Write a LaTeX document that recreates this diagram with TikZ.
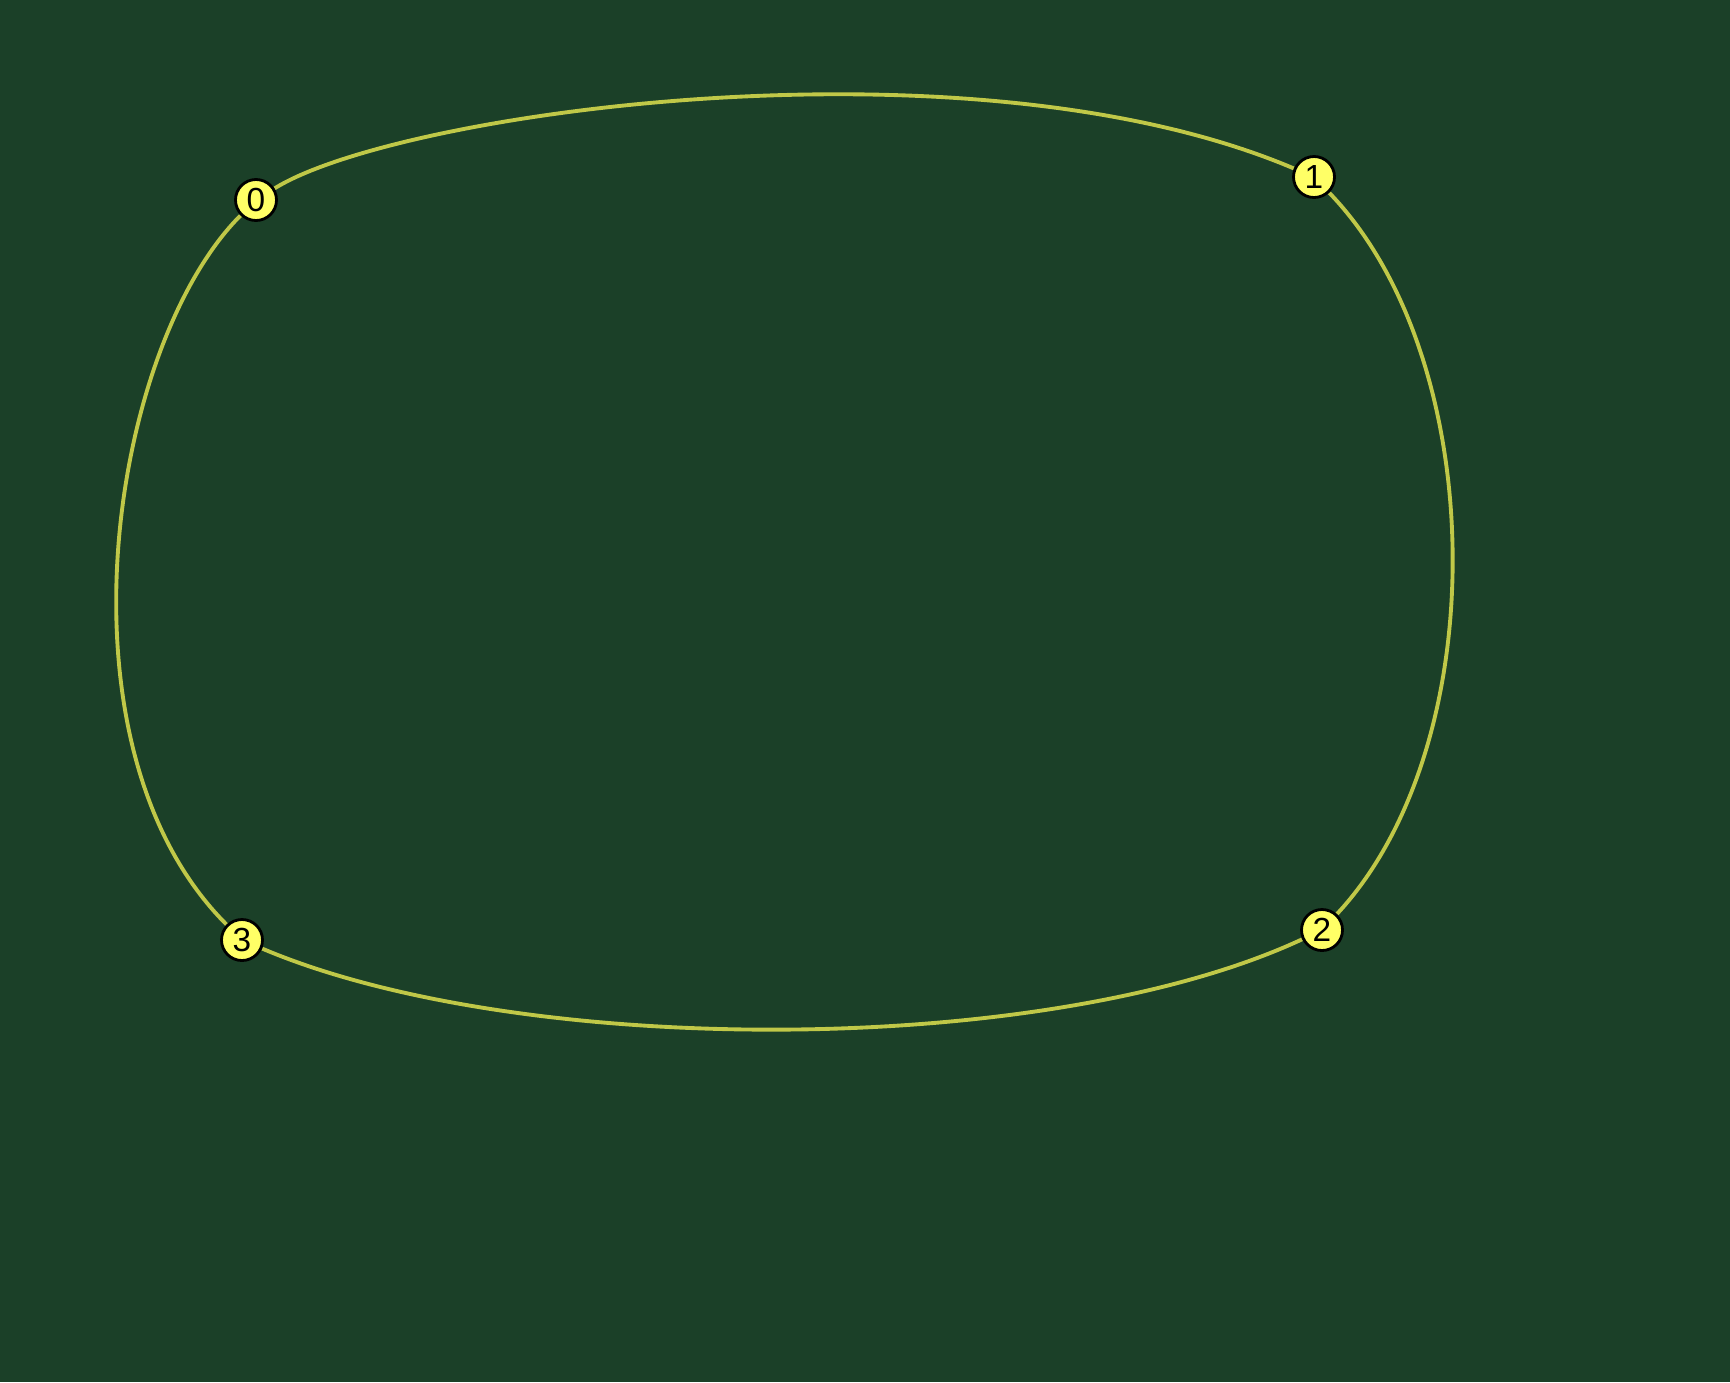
\documentclass[tikz,border=0pt]{standalone}
\usepackage{fontspec}
\setmainfont{Liberation Sans}
\usetikzlibrary{backgrounds}

\definecolor{boardgreen}{RGB}{27,64,40}
\definecolor{wire}{RGB}{192,200,72}
\definecolor{dotfill}{RGB}{255,255,102}

\begin{document}
\begin{tikzpicture}[semithick,
        vertex/.style={circle,draw=black,line width=0.8pt,fill=dotfill,minimum size=0.41cm,inner sep=0pt,font=\fontsize{9.5}{11}\selectfont},
        link/.style={draw=wire,line width=1.1pt}]
        \useasboundingbox (0,0) rectangle (17.3,-13.82);
        \node[vertex] (v0) at (2.56,-2.00) {0};
        \node[vertex] (v1) at (13.14,-1.77) {1};
        \node[vertex] (v2) at (13.22,-9.30) {2};
        \node[vertex] (v3) at (2.42,-9.40) {3};

        \begin{scope}[on background layer]
        \fill[boardgreen] (0,0) rectangle (17.3,-13.82);
        \path (v0) edge[link,out=32,in=157,out looseness=0.36,in looseness=0.88] (v1);
        \path (v1) edge[link,out=-46,in=47,looseness=0.82] (v2);
        \path (v2) edge[link,out=-155,in=-23,looseness=0.69] (v3);
        \path (v3) edge[link,out=135,in=-135,out looseness=0.91,in looseness=0.66] (v0);
        \end{scope}
    \end{tikzpicture}
\end{document}
